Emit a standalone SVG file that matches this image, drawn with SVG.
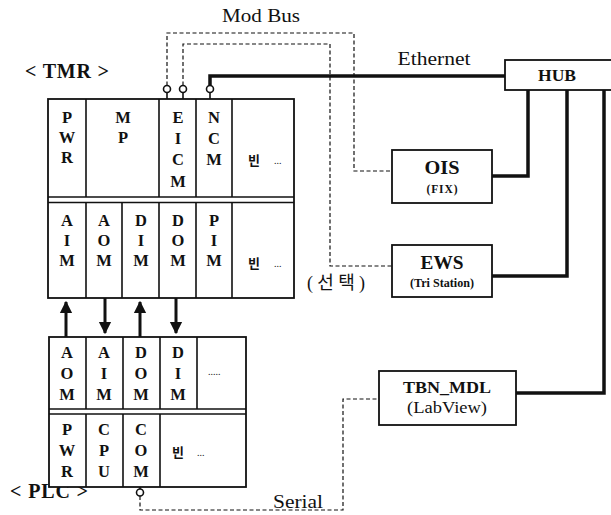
<svg xmlns="http://www.w3.org/2000/svg" width="611" height="515" viewBox="0 0 611 515">
  <style>
    .bg { fill: #ffffff; }
    .box { fill: #ffffff; stroke: #111; stroke-width: 1.8; }
    .div { stroke: #111; stroke-width: 1.6; fill: none; }
    .lt { font-family: "Liberation Serif", "Noto Sans CJK KR", serif; font-weight: bold; font-size: 16.5px; fill: #111; text-anchor: middle; }
    .lbl { font-family: "Liberation Serif", "Noto Sans CJK KR", serif; font-size: 19px; fill: #111; text-anchor: middle; }
    .title { font-family: "Liberation Serif", serif; font-weight: bold; font-size: 20px; fill: #111; }
    .small { font-family: "Liberation Serif", serif; font-weight: bold; font-size: 11.5px; fill: #111; text-anchor: middle; }
    .ko { font-family: "Noto Sans CJK KR", serif; font-weight: bold; font-size: 13px; fill: #111; text-anchor: middle; }
    .dots { font-family: "Liberation Serif", serif; font-size: 10px; fill: #111; }
    .eth { stroke: #111; stroke-width: 3.5; fill: none; stroke-linejoin: miter; }
    .dash { stroke: #111; stroke-width: 1.2; fill: none; stroke-dasharray: 4 2.5; }
    .io { stroke: #111; stroke-width: 3; fill: none; }
    .port { fill: #fff; stroke: #111; stroke-width: 1.6; }
  </style>
  <defs>
    <marker id="ah" viewBox="0 0 10 10" refX="9" refY="5" markerWidth="4.2" markerHeight="4.5" orient="auto" markerUnits="strokeWidth">
      <path d="M0,0 L10,5 L0,10 z" fill="#111"/>
    </marker>
  </defs>
  <rect class="bg" x="0" y="0" width="611" height="515"/>

  <text class="title" x="25" y="78" textLength="84" lengthAdjust="spacing">&lt; TMR &gt;</text>
  <text class="title" x="10" y="498" textLength="78" lengthAdjust="spacing">&lt; PLC &gt;</text>
  <text class="lbl" x="261" y="22" textLength="78" lengthAdjust="spacingAndGlyphs">Mod Bus</text>
  <text class="lbl" x="434" y="65" textLength="73" lengthAdjust="spacingAndGlyphs">Ethernet</text>
  <text class="lbl" x="336" y="289" style="font-size:18px" textLength="58" lengthAdjust="spacing">(선택)</text>
  <text class="lbl" x="298" y="508" textLength="50" lengthAdjust="spacingAndGlyphs">Serial</text>

  <!-- connectors -->
  <g id="connectors">
    <!-- Ethernet backbone -->
    <path class="eth" d="M210,85.5 V76 H506"/>
    <path class="eth" d="M528,90 V176 H492"/>
    <path class="eth" d="M567,90 V276 H492"/>
    <path class="eth" d="M604,90 V393 H516"/>
    <!-- Mod Bus -->
    <path class="dash" d="M167,85.5 V33 H354 V171 H392"/>
    <path class="dash" d="M183,85.5 V44 H330 V266 H392"/>
    <!-- Serial -->
    <path class="dash" d="M140,496 V510 H343 V399 H379"/>
    <!-- I/O wiring between TMR and PLC -->
    <path class="io" d="M66,337 V302" marker-end="url(#ah)"/>
    <path class="io" d="M105,298 V333" marker-end="url(#ah)"/>
    <path class="io" d="M140,337 V302" marker-end="url(#ah)"/>
    <path class="io" d="M176,298 V333" marker-end="url(#ah)"/>
    <!-- ports -->
    <line class="div" x1="167" y1="92.5" x2="167" y2="99"/>
    <circle class="port" cx="167" cy="89" r="3.5"/>
    <line class="div" x1="183" y1="92.5" x2="183" y2="99"/>
    <circle class="port" cx="183" cy="89" r="3.5"/>
    <line class="div" x1="210" y1="92.5" x2="210" y2="99"/>
    <circle class="port" cx="210" cy="89" r="3.5"/>
    <line class="div" x1="140" y1="487" x2="140" y2="489"/>
    <circle class="port" cx="140" cy="492.5" r="3.5"/>
  </g>

  <!-- TMR rack -->
  <g id="tmr">
    <rect class="box" x="48" y="99" width="246" height="199"/>
    <line class="div" x1="48" y1="197" x2="294" y2="197"/>
    <line class="div" x1="48" y1="202.5" x2="294" y2="202.5"/>
    <path class="div" d="M86,99 V197 M159,99 V197 M196,99 V197 M232,99 V197"/>
    <path class="div" d="M86,202.5 V298 M122,202.5 V298 M159,202.5 V298 M196,202.5 V298 M232,202.5 V298"/>
    <g class="lt">
      <text x="67" y="123">P</text><text x="67" y="143">W</text><text x="67" y="163">R</text>
      <text x="123" y="123">M</text><text x="123" y="143">P</text>
      <text x="178" y="123">E</text><text x="178" y="144">I</text><text x="178" y="165">C</text><text x="178" y="187">M</text>
      <text x="214" y="123">N</text><text x="214" y="144">C</text><text x="214" y="165">M</text>
      <text x="67" y="226">A</text><text x="67" y="246">I</text><text x="67" y="266">M</text>
      <text x="104" y="226">A</text><text x="104" y="246">O</text><text x="104" y="266">M</text>
      <text x="141" y="226">D</text><text x="141" y="246">I</text><text x="141" y="266">M</text>
      <text x="178" y="226">D</text><text x="178" y="246">O</text><text x="178" y="266">M</text>
      <text x="214" y="226">P</text><text x="214" y="246">I</text><text x="214" y="266">M</text>
    </g>
    <text class="ko" x="254" y="165">빈</text><text class="dots" x="274" y="164">...</text>
    <text class="ko" x="254" y="268">빈</text><text class="dots" x="274" y="267">...</text>
  </g>

  <!-- PLC rack -->
  <g id="plc">
    <rect class="box" x="49" y="337" width="197" height="150"/>
    <line class="div" x1="49" y1="409" x2="246" y2="409"/>
    <line class="div" x1="49" y1="414" x2="246" y2="414"/>
    <path class="div" d="M86,337 V409 M123,337 V409 M160,337 V409 M197,337 V409"/>
    <path class="div" d="M86,414 V487 M123,414 V487 M160,414 V487"/>
    <g class="lt">
      <text x="67" y="358">A</text><text x="67" y="379">O</text><text x="67" y="400">M</text>
      <text x="104" y="358">A</text><text x="104" y="379">I</text><text x="104" y="400">M</text>
      <text x="141" y="358">D</text><text x="141" y="379">O</text><text x="141" y="400">M</text>
      <text x="178" y="358">D</text><text x="178" y="379">I</text><text x="178" y="400">M</text>
      <text x="67" y="435">P</text><text x="67" y="456">W</text><text x="67" y="477">R</text>
      <text x="104" y="435">C</text><text x="104" y="456">P</text><text x="104" y="477">U</text>
      <text x="141" y="435">C</text><text x="141" y="456">O</text><text x="141" y="477">M</text>
    </g>
    <text class="dots" x="208" y="375">.....</text>
    <text class="ko" x="178" y="457">빈</text><text class="dots" x="197" y="456">...</text>
  </g>

  <g id="hub">
    <rect class="box" x="505" y="60" width="110" height="30"/>
    <text class="lt" x="557" y="81" textLength="38" lengthAdjust="spacingAndGlyphs">HUB</text>
  </g>

  <g id="ois">
    <rect class="box" x="392" y="150" width="100" height="53"/>
    <text class="lt" x="442" y="174" style="font-size:18px" textLength="35" lengthAdjust="spacingAndGlyphs">OIS</text>
    <text class="small" x="442" y="193" textLength="31" lengthAdjust="spacing">(FIX)</text>
  </g>

  <g id="ews">
    <rect class="box" x="392" y="245" width="100" height="52"/>
    <text class="lt" x="442" y="269" style="font-size:18px" textLength="43" lengthAdjust="spacingAndGlyphs">EWS</text>
    <text class="small" x="442" y="287" textLength="64" lengthAdjust="spacingAndGlyphs">(Tri Station)</text>
  </g>

  <g id="tbn_mdl">
    <rect class="box" x="379" y="371" width="137" height="54"/>
    <text class="lt" x="447" y="393" style="font-size:17px" textLength="88" lengthAdjust="spacingAndGlyphs">TBN_MDL</text>
    <text class="lbl" x="447" y="413" style="font-size:16px" textLength="80" lengthAdjust="spacingAndGlyphs">(LabView)</text>
  </g>
</svg>
